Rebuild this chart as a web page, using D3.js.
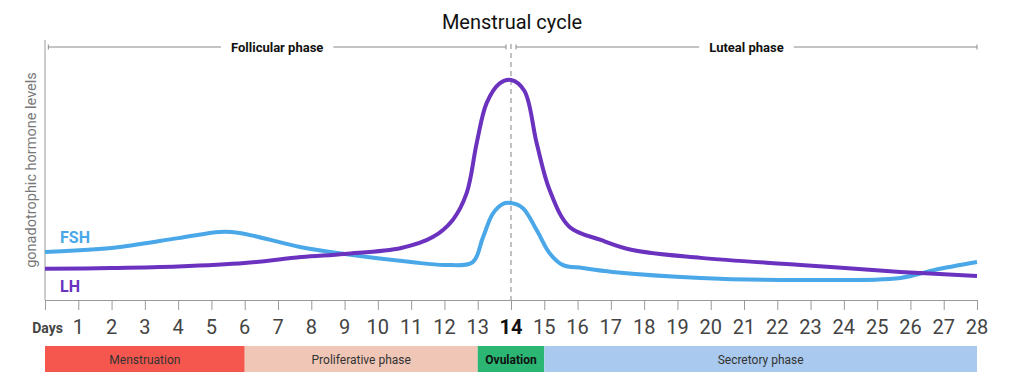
<!DOCTYPE html>
<html>
<head>
<meta charset="utf-8">
<script src="https://cdn.jsdelivr.net/npm/d3@7"></script>
<style>
  body { margin: 0; background: #fff; }
  svg { font-family: Roboto, "Noto Sans", sans-serif; }
</style>
</head>
<body>
<div id="chart"></div>
<script>
var W = 1024, H = 384;

// hormone levels, arbitrary units 0..100
var lhDays = [0, 2, 4, 6, 7.7, 9, 10.7, 11.65, 12.25, 12.67, 12.97, 13.27, 13.66, 14, 14.4, 14.77, 15.16, 15.76, 16.7, 17.65, 19.7, 22.7, 25.7, 28];
var lhVals = [12, 12.3, 12.9, 14.2, 16.5, 17.7, 20, 24.2, 30.8, 41.2, 60.4, 75.8, 83.3, 84.6, 80.5, 60.4, 42.3, 28.1, 23.1, 19.2, 16.2, 13.5, 10.8, 9.2];

var fshDays = [0, 2, 4, 5.25, 5.85, 7.66, 9, 11, 12, 12.85, 13.15, 13.45, 13.75, 14, 14.35, 14.77, 15.16, 15.55, 16.15, 17.05, 19.7, 22.7, 25.7, 26.7, 28];
var fshVals = [18.5, 20, 23.8, 26.2, 25.8, 20.4, 17.7, 14.6, 13.5, 14.6, 23.8, 33.1, 36.9, 37.3, 35.4, 26.9, 18, 13.5, 12.3, 10.8, 8.5, 7.7, 8.5, 11.5, 14.6];

var dayTicks = d3.range(1, 29);

var phaseNames = ["Menstruation", "Proliferative phase", "Ovulation", "Secretory phase"];
var phaseStart = [0, 6, 13, 15];
var phaseEnd   = [6, 13, 15, 28];
var phaseColor = ["#f5574e", "#f0c6b6", "#2bb673", "#a9c9ee"];

var topPhases = ["Follicular phase", "Luteal phase"];
var topStart  = [0.1, 14.15];
var topEnd    = [13.85, 28];

var x = d3.scaleLinear().domain([0, 28]).range([45, 977]);
var y = d3.scaleLinear().domain([0, 100]).range([300, 40]);

var svg = d3.select("#chart").append("svg")
    .attr("width", W).attr("height", H);

// title
svg.append("text")
    .attr("x", 512).attr("y", 29)
    .attr("text-anchor", "middle")
    .attr("font-size", 20)
    .attr("fill", "#111")
    .text("Menstrual cycle");

// follicular / luteal brackets
topPhases.forEach(function(name, i) {
  var x0 = x(topStart[i]), x1 = x(topEnd[i]), cx = (x0 + x1) / 2, yy = 47;
  var t = svg.append("text")
      .attr("x", cx).attr("y", yy + 4.5)
      .attr("text-anchor", "middle")
      .attr("font-size", 13)
      .attr("font-weight", "bold")
      .attr("fill", "#111")
      .text(name);
  var half = t.node().getComputedTextLength() / 2 + 10;
  var g = svg.append("g").attr("stroke", "#8a8a8a").attr("stroke-width", 1);
  g.append("line").attr("x1", x0).attr("x2", cx - half).attr("y1", yy).attr("y2", yy);
  g.append("line").attr("x1", cx + half).attr("x2", x1).attr("y1", yy).attr("y2", yy);
  g.append("line").attr("x1", x0).attr("x2", x0).attr("y1", yy - 2.5).attr("y2", yy + 2.5);
  g.append("line").attr("x1", x1).attr("x2", x1).attr("y1", yy - 2.5).attr("y2", yy + 2.5);
});

// y axis line
svg.append("line")
    .attr("x1", 45).attr("x2", 45).attr("y1", 40).attr("y2", 300)
    .attr("stroke", "#9a9a9a").attr("stroke-width", 1);

svg.append("text")
    .attr("transform", "translate(36,170) rotate(-90)")
    .attr("text-anchor", "middle")
    .attr("font-size", 14.5)
    .attr("fill", "#777")
    .text("gonadotrophic hormone levels");

// x axis
var xAxis = svg.append("g")
    .attr("transform", "translate(0,300)")
    .call(d3.axisBottom(x).tickValues(d3.range(0, 29)).tickSize(10).tickFormat(""));
xAxis.select(".domain").attr("stroke", "#9a9a9a");
xAxis.selectAll(".tick line").attr("stroke", "#9a9a9a");

svg.append("g").selectAll("text")
    .data(dayTicks)
    .enter().append("text")
    .attr("x", function(d) { return x(d); })
    .attr("y", 334)
    .attr("text-anchor", "middle")
    .attr("font-size", 20)
    .attr("font-weight", function(d) { return d === 14 ? "bold" : "normal"; })
    .attr("fill", function(d) { return d === 14 ? "#111" : "#444"; })
    .text(function(d) { return d; });

svg.append("text")
    .attr("x", 63).attr("y", 333)
    .attr("text-anchor", "end")
    .attr("font-size", 14)
    .attr("font-weight", "bold")
    .attr("fill", "#444")
    .text("Days");

// ovulation dashed line
svg.append("line")
    .attr("x1", x(14)).attr("x2", x(14)).attr("y1", 44).attr("y2", 300)
    .attr("stroke", "#999").attr("stroke-width", 1.2)
    .attr("stroke-dasharray", "5,4");

// curves
var fshData = fshDays.map(function(d, i) { return {day: d, v: fshVals[i]}; });
var lhData = lhDays.map(function(d, i) { return {day: d, v: lhVals[i]}; });

var line = d3.line()
    .x(function(d) { return x(d.day); })
    .y(function(d) { return y(d.v); })
    .curve(d3.curveCatmullRom.alpha(0.5));

svg.append("path").datum(fshData)
    .attr("fill", "none").attr("stroke", "#4aa8e8").attr("stroke-width", 4)
    .attr("stroke-linejoin", "round")
    .attr("d", line);

svg.append("path").datum(lhData)
    .attr("fill", "none").attr("stroke", "#6a32bf").attr("stroke-width", 4)
    .attr("stroke-linejoin", "round")
    .attr("d", line);

svg.append("text")
    .attr("x", 60).attr("y", 243)
    .attr("font-size", 16).attr("font-weight", "bold")
    .attr("fill", "#4aa8e8").text("FSH");

svg.append("text")
    .attr("x", 60).attr("y", 292)
    .attr("font-size", 16).attr("font-weight", "bold")
    .attr("fill", "#6a32bf").text("LH");

// phase bars
var bars = svg.append("g");
phaseNames.forEach(function(name, i) {
  var x0 = x(phaseStart[i]), x1 = x(phaseEnd[i]);
  bars.append("rect")
      .attr("x", x0).attr("y", 346)
      .attr("width", x1 - x0).attr("height", 26)
      .attr("fill", phaseColor[i]);
  bars.append("text")
      .attr("x", (x0 + x1) / 2).attr("y", 363.5)
      .attr("text-anchor", "middle")
      .attr("font-size", 12)
      .attr("font-weight", name === "Ovulation" ? "bold" : "normal")
      .attr("fill", name === "Ovulation" ? "#111" : "#333")
      .text(name);
});
</script>
</body>
</html>
